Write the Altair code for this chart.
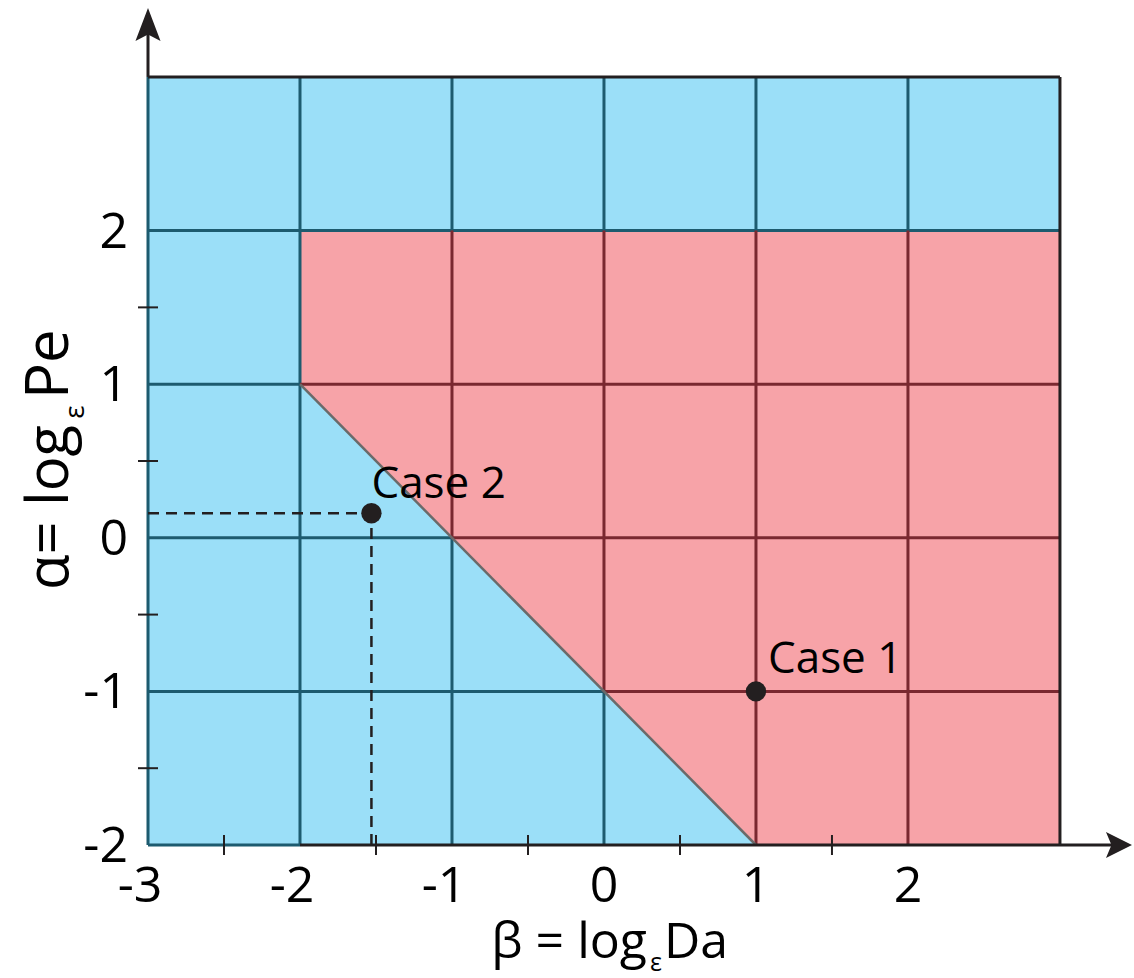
import altair as alt
import pandas as pd

# ---- data -------------------------------------------------------------
beta_labels = [-3, -2, -1, 0, 1, 2]          # β tick labels
alpha_labels = [-2, -1, 0, 1, 2]             # α tick labels
beta_minor = [-2.5, -1.5, -0.5, 0.5, 1.5]    # unlabelled β ticks
alpha_minor = [-1.5, -0.5, 0.5, 1.5]         # unlabelled α ticks
grid_beta = [-2, -1, 0, 1, 2]                # vertical grid lines
grid_alpha = [-1, 0, 1, 2]                   # horizontal grid lines

# diagram frame and regime boundary  α = -β - 1
beta_min, beta_max = -3, 3
alpha_min, alpha_max = -2, 3
region_beta = [-2, 1, 3]
region_lo = [1, -2, -2]
region_hi = [2, 2, 2]
boundary_beta = [-2, 1]
boundary_alpha = [1, -2]

case_names = ["Case 1", "Case 2"]
case_beta = [1.0, -1.53]
case_alpha = [-1.0, 0.16]

# ---- styling ----------------------------------------------------------
BLUE = "#9BDFF8"
RED = "#F7A3A8"
TEAL = "#1D5B6F"
MAROON = "#7A2830"
INK = "#231F20"
FONT = "Open Sans"

W, H = 984, 837
xs = alt.Scale(domain=[-3, 3.474], nice=False, zero=False)
ys = alt.Scale(domain=[-2, 3.449], nice=False, zero=False)


def X(f):
    return alt.X(f, type="quantitative", scale=xs, axis=None)


def Y(f):
    return alt.Y(f, type="quantitative", scale=ys, axis=None)


def segments(rows, color, width=3, **kw):
    df = pd.DataFrame(rows, columns=["b1", "a1", "b2", "a2"])
    return alt.Chart(df).mark_rule(color=color, strokeWidth=width, **kw).encode(
        x=X("b1"), y=Y("a1"), x2=alt.X2("b2"), y2=alt.Y2("a2"))


# red regime lies above the boundary, for β > -2 and α < 2
def boundary(b):
    return max(-b - 1, alpha_min)


blue_segs, red_segs = [], []
for b in grid_beta:
    if b == -2:
        blue_segs.append((b, alpha_min, b, alpha_max))
    else:
        lo = boundary(b)
        if lo > alpha_min:
            blue_segs.append((b, alpha_min, b, lo))
        red_segs.append((b, lo, b, 2))
        blue_segs.append((b, 2, b, alpha_max))
for a in grid_alpha:
    if a == 2:
        blue_segs.append((beta_min, a, beta_max, a))
    else:
        start = max(-a - 1, -2)
        blue_segs.append((beta_min, a, start, a))
        red_segs.append((start, a, beta_max, a))

bg = alt.Chart(pd.DataFrame({"b1": [beta_min], "b2": [beta_max],
                             "a1": [alpha_min], "a2": [alpha_max]})).mark_rect(
    color=BLUE).encode(x=X("b1"), x2=alt.X2("b2"), y=Y("a1"), y2=alt.Y2("a2"))

red = alt.Chart(pd.DataFrame({"b": region_beta, "lo": region_lo, "hi": region_hi})).mark_area(
    color=RED, opacity=1).encode(x=X("b"), y=Y("lo"), y2=alt.Y2("hi"))

grid_blue = segments(blue_segs, TEAL)
grid_red = segments(red_segs, MAROON)

diag = alt.Chart(pd.DataFrame({"b": boundary_beta, "a": boundary_alpha})).mark_line(
    color="#6A6A6A", strokeWidth=2.5).encode(x=X("b"), y=Y("a"))

# frame edges and the two axes
edges_teal = segments([(beta_min, alpha_min, beta_min, alpha_max),
                       (beta_min, alpha_min, -2, alpha_min)], TEAL)
edges_ink = segments([(beta_min, alpha_max, beta_max, alpha_max),
                      (beta_max, alpha_min, beta_max, alpha_max),
                      (-2, alpha_min, 3.40, alpha_min),
                      (beta_min, alpha_max, beta_min, 3.38)], INK)

arrow_up = alt.Chart(pd.DataFrame({"b": [beta_min], "a": [3.449]})).mark_point(
    shape="M0,0 L0.76,2 L0,1.6 L-0.76,2 Z", filled=True, opacity=1, color=INK, size=1089,
).encode(x=X("b"), y=Y("a"))
arrow_right = alt.Chart(pd.DataFrame({"b": [3.474], "a": [alpha_min]})).mark_point(
    shape="M0,0 L-1.9,-0.95 L-1.5,0 L-1.9,0.95 Z", filled=True, opacity=1, color=INK, size=750,
).encode(x=X("b"), y=Y("a"))

xticks = alt.Chart(pd.DataFrame({"b": beta_minor, "a": alpha_min})).mark_tick(
    orient="vertical", size=20, thickness=2, color=INK, opacity=1).encode(x=X("b"), y=Y("a"))
yticks = alt.Chart(pd.DataFrame({"b": beta_min, "a": alpha_minor})).mark_tick(
    orient="horizontal", size=20, thickness=2, color=INK, opacity=1).encode(x=X("b"), y=Y("a"))

# tick labels
xl_df = pd.DataFrame({"b": beta_labels, "a": alpha_min, "t": [str(v) for v in beta_labels]})
xlab_pos = alt.Chart(xl_df).transform_filter("datum.b >= 0").mark_text(
    font=FONT, fontSize=50, color="#000", align="center", baseline="alphabetic", dy=57
).encode(x=X("b"), y=Y("a"), text="t:N")
xlab_neg = alt.Chart(xl_df).transform_filter("datum.b < 0").mark_text(
    font=FONT, fontSize=50, color="#000", align="center", baseline="alphabetic", dy=57, dx=-8
).encode(x=X("b"), y=Y("a"), text="t:N")
yl_df = pd.DataFrame({"b": beta_min, "a": alpha_labels, "t": [str(v) for v in alpha_labels]})
ylab = alt.Chart(yl_df).mark_text(
    font=FONT, fontSize=50, color="#000", align="right", baseline="alphabetic", dx=-20, dy=17
).encode(x=X("b"), y=Y("a"), text="t:N")

# Case 2 guides down to both axes
guides = segments([(beta_min, case_alpha[1], case_beta[1], case_alpha[1]),
                   (case_beta[1], alpha_min, case_beta[1], case_alpha[1])],
                  INK, width=2.5, strokeDash=[11, 7])

cases_df = pd.DataFrame({"name": case_names, "b": case_beta, "a": case_alpha})
points = alt.Chart(cases_df).mark_circle(size=415, color=INK, opacity=1).encode(
    x=X("b"), y=Y("a"))
c1 = alt.Chart(cases_df).transform_filter("datum.name == 'Case 1'").mark_text(
    font=FONT, fontSize=44, color="#000", align="left", baseline="alphabetic", dx=12, dy=-18
).encode(x=X("b"), y=Y("a"), text="name:N")
c2 = alt.Chart(cases_df).transform_filter("datum.name == 'Case 2'").mark_text(
    font=FONT, fontSize=44, color="#000", align="left", baseline="alphabetic", dx=0, dy=-15
).encode(x=X("b"), y=Y("a"), text="name:N")

# axis titles with the ε subscript
one = pd.DataFrame({"k": [0]})


def txt(s, x, y, size, align, angle=0):
    return alt.Chart(one).mark_text(
        text=s, font=FONT, fontSize=size, color="#000", align=align,
        baseline="alphabetic", angle=angle
    ).encode(x=alt.value(x - 148), y=alt.value(y - 8))


xtitle = (txt("β = log", 647, 958, 50, "right")
          + txt("ε", 656, 971, 25, "center")
          + txt("Da", 664, 958, 50, "left"))
ytitle = (txt("α=", 68, 590, 58, "left", 270)
          + txt("log", 68, 506, 58, "left", 270)
          + txt("ε", 84, 412, 28, "center", 270)
          + txt("Pe", 68, 399, 60, "left", 270))

chart = alt.layer(
    bg, red, grid_blue, grid_red, diag, edges_teal, edges_ink, xticks, yticks,
    arrow_up, arrow_right, xlab_pos, xlab_neg, ylab, guides, points, c1, c2,
    xtitle, ytitle
).properties(
    width=W, height=H,
    padding={"left": 148, "top": 8, "right": 2, "bottom": 133},
    autosize=alt.AutoSizeParams(type="none"),
).configure_view(stroke=None)

chart.save("out.html", embed_options={"renderer": "svg", "actions": False})
